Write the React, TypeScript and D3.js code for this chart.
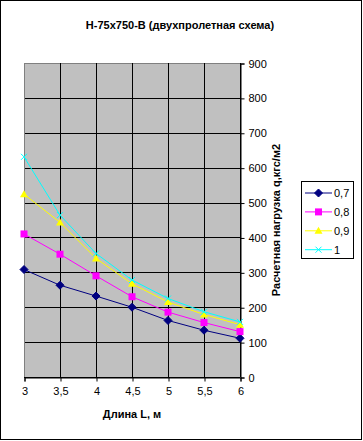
import { useEffect, useRef } from 'react'
import * as d3 from 'd3'

const LENGTHS = [3, 3.5, 4, 4.5, 5, 5.5, 6]
const SERIES_NAMES = ['0,7', '0,8', '0,9', '1']
const LOAD_07 = [308, 263, 232, 200, 162, 134, 111]
const LOAD_08 = [410, 352, 290, 230, 186, 156, 130]
const LOAD_09 = [524, 443, 340, 267, 215, 179, 150]
const LOAD_10 = [631, 464, 354, 278, 225, 187, 158]
const Y_TICKS = [0, 100, 200, 300, 400, 500, 600, 700, 800, 900]

const COLORS = ['#000080', '#ff00ff', '#ffff00', '#00ffff']
const MARKERS = ['diamond', 'square', 'triangle', 'x']

const W = 363
const H = 441

export default function App() {
  const svgRef = useRef<SVGSVGElement>(null)

  useEffect(() => {
    const svg = d3.select(svgRef.current)
    svg.selectAll('*').remove()

    const font = 'Arial, "Liberation Sans", sans-serif'
    const plot = { left: 24, right: 240, top: 63, bottom: 377 }

    const x = d3.scaleLinear().domain([3, 6]).range([plot.left, plot.right])
    const y = d3.scaleLinear().domain([0, 900]).range([plot.bottom, plot.top])

    // frame
    svg.append('rect')
      .attr('x', 0.5).attr('y', 0.5).attr('width', W - 2).attr('height', H - 2)
      .attr('fill', '#fff').attr('stroke', '#000')

    // plot area
    svg.append('rect')
      .attr('x', plot.left).attr('y', plot.top)
      .attr('width', plot.right - plot.left).attr('height', plot.bottom - plot.top)
      .attr('fill', '#c0c0c0')

    // grid
    Y_TICKS.forEach(t => {
      svg.append('line')
        .attr('x1', plot.left).attr('x2', plot.right)
        .attr('y1', Math.round(y(t)) + 0.5).attr('y2', Math.round(y(t)) + 0.5)
        .attr('stroke', t === 900 ? '#808080' : '#000')
    })
    LENGTHS.forEach(t => {
      svg.append('line')
        .attr('x1', Math.round(x(t)) + 0.5).attr('x2', Math.round(x(t)) + 0.5)
        .attr('y1', plot.top).attr('y2', plot.bottom)
        .attr('stroke', t === 3 ? '#808080' : '#000')
    })

    // y axis on the right
    const yAxis = svg.append('g')
      .attr('transform', `translate(${plot.right + 0.5},0.5)`)
      .call(d3.axisRight(y).tickValues(Y_TICKS).tickSize(4).tickPadding(4).tickFormat(d3.format('d')))
    yAxis.select('.domain').attr('stroke', '#000')
    yAxis.selectAll('.tick line').attr('stroke', '#000')
    yAxis.selectAll('.tick text')
      .attr('fill', '#000').style('font-size', '11px').style('font-family', font)

    // x axis
    const xAxis = svg.append('g')
      .attr('transform', `translate(0.5,${plot.bottom + 0.5})`)
      .call(d3.axisBottom(x).tickValues(LENGTHS).tickSize(4).tickPadding(6)
        .tickFormat(d => String(d).replace('.', ',')))
    xAxis.select('.domain').attr('stroke', '#000')
    xAxis.selectAll('.tick line').attr('stroke', '#000')
    xAxis.selectAll('.tick text')
      .attr('fill', '#000').style('font-size', '11px').style('font-family', font)

    // titles
    svg.append('text')
      .attr('x', 180).attr('y', 29).attr('text-anchor', 'middle')
      .style('font-family', font).style('font-size', '11px').style('font-weight', 'bold')
      .text('Н-75х750-В (двухпролетная схема)')
    svg.append('text')
      .attr('x', 132).attr('y', 418).attr('text-anchor', 'middle')
      .style('font-family', font).style('font-size', '11px').style('font-weight', 'bold')
      .text('Длина L, м')
    svg.append('text')
      .attr('transform', `translate(280,${(plot.top + plot.bottom) / 2}) rotate(-90)`)
      .attr('text-anchor', 'middle')
      .style('font-family', font).style('font-size', '11px').style('font-weight', 'bold')
      .text('Расчетная нагрузка q,кгс/м2')

    const drawMarker = (g: d3.Selection<SVGGElement, unknown, null, undefined>, kind: string, cx: number, cy: number, color: string) => {
      if (kind === 'diamond') {
        g.append('path').attr('d', `M${cx},${cy - 4}L${cx + 4},${cy}L${cx},${cy + 4}L${cx - 4},${cy}Z`)
          .attr('fill', color).attr('stroke', color)
      } else if (kind === 'square') {
        g.append('rect').attr('x', cx - 3.5).attr('y', cy - 3.5).attr('width', 7).attr('height', 7)
          .attr('fill', color)
      } else if (kind === 'triangle') {
        g.append('path').attr('d', `M${cx},${cy - 4}L${cx + 4},${cy + 3}L${cx - 4},${cy + 3}Z`)
          .attr('fill', color)
      } else {
        g.append('path').attr('d', `M${cx - 3},${cy - 3}L${cx + 3},${cy + 3}M${cx + 3},${cy - 3}L${cx - 3},${cy + 3}`)
          .attr('stroke', color).attr('stroke-width', 1)
      }
    }

    const data = [LOAD_07, LOAD_08, LOAD_09, LOAD_10]
    const line = d3.line<number>().x((_, i) => x(LENGTHS[i])).y(d => y(d))

    data.forEach((vals, si) => {
      const g = svg.append('g')
      g.append('path').attr('d', line(vals)).attr('fill', 'none')
        .attr('stroke', COLORS[si]).attr('stroke-width', 1)
      vals.forEach((v, i) => drawMarker(g, MARKERS[si], x(LENGTHS[i]), y(v), COLORS[si]))
    })

    // legend
    const leg = svg.append('g')
    leg.append('rect').attr('x', 301.5).attr('y', 181.5).attr('width', 52).attr('height', 77)
      .attr('fill', '#fff').attr('stroke', '#000')
    SERIES_NAMES.forEach((name, i) => {
      const ly = 193 + i * 18.9
      const lg = leg.append('g')
      lg.append('line').attr('x1', 305).attr('x2', 332).attr('y1', ly).attr('y2', ly)
        .attr('stroke', COLORS[i])
      drawMarker(lg, MARKERS[i], 318.5, ly, COLORS[i])
      lg.append('text').attr('x', 334).attr('y', ly + 4)
        .style('font-family', font).style('font-size', '11px')
        .text(name)
    })
  }, [])

  return (
    <svg ref={svgRef} width={W} height={H}
      style={{ position: 'absolute', left: 0, top: 0, display: 'block' }} />
  )
}
